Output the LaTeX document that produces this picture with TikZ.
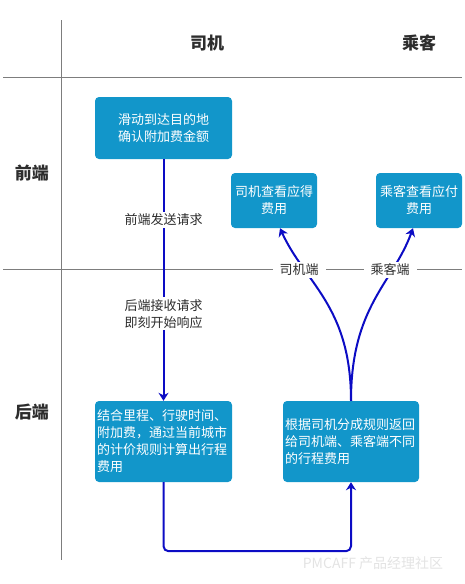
\documentclass[tikz,border=0pt]{standalone}
\usepackage{fontspec}
\setmainfont{Noto Sans CJK SC}
\usetikzlibrary{arrows.meta}
\definecolor{boxblue}{RGB}{18,150,202}
\definecolor{flowblue}{RGB}{12,12,196}
\definecolor{linegray}{RGB}{125,125,125}
\definecolor{textgray}{RGB}{45,45,45}

\begin{document}
\begin{tikzpicture}[x=1pt,y=-1pt,font=\fontsize{13}{17}\selectfont,
  box/.style={fill=boxblue,rounded corners=4pt,text=white,inner sep=2pt},
  flow/.style={draw=flowblue,line width=2pt,-{Stealth[length=8pt,width=10pt,inset=2.5pt]}},
  tag/.style={fill=white,text=textgray,inner sep=2pt},
  head/.style={text=textgray,font=\fontsize{17}{20}\selectfont\bfseries}]
\useasboundingbox (0,0) rectangle (465,584);
%\draw[help lines,step=50] (0,0) grid (465,584);
\draw[linegray,line width=0.8pt] (61,20) -- (61,560);
\draw[linegray,line width=0.8pt] (3,77) -- (462,77);
\draw[linegray,line width=0.8pt] (3,269) -- (462,269);
\node (driver) [head] at (207,43) {司机};
\node (rider) [head] at (419,43) {乘客};
\node (front) [head] at (32,173) {前端};
\node (back) [head] at (32,412) {后端};
\node (pickup) [box,minimum width=137pt,minimum height=62pt,align=center] at (163.5,128) {滑动到达目的地\\确认附加费金额};
\node (drvview) [box,minimum width=86pt,minimum height=55pt,align=center] at (274,200.5) {司机查看应得\\费用};
\node (ridview) [box,minimum width=86pt,minimum height=55pt,align=center] at (419,200.5) {乘客查看应付\\费用};
\node (calc) [box,minimum width=137pt,minimum height=81pt,text width=133pt,align=left] at (163.5,441.5) {结合里程、行驶时间、\\附加费，通过当前城市\\的计价规则计算出行程\\费用};
\node (split) [box,minimum width=136pt,minimum height=81pt,text width=132pt,align=left] at (351,441.5) {根据司机分成规则返回\\给司机端、乘客端不同\\的行程费用};
\path
(pickup) edge [flow] node [tag,pos=0.25] {前端发送请求}
  node [tag,pos=0.64,align=center] {后端接收请求\\即刻开始响应} (calc);
\draw [flow,rounded corners=5pt] (calc.south) -- ++(0,69) -| (split.south);
\draw [flow] (split.north) .. controls +(0,-95) and +(25,55) .. ([xshift=6pt]drvview.south);
\draw [flow] (split.north) .. controls +(0,-95) and +(-20,55) .. ([xshift=-6pt]ridview.south);
\node (drvside) [tag,inner xsep=7pt] at (299,270) {司机端};
\node (ridside) [tag,inner xsep=7pt] at (390,270) {乘客端};
\node (mark) [text=gray!22,font=\fontsize{14}{14}\selectfont] at (373,563) {PMCAFF 产品经理社区};
\end{tikzpicture}
\end{document}
